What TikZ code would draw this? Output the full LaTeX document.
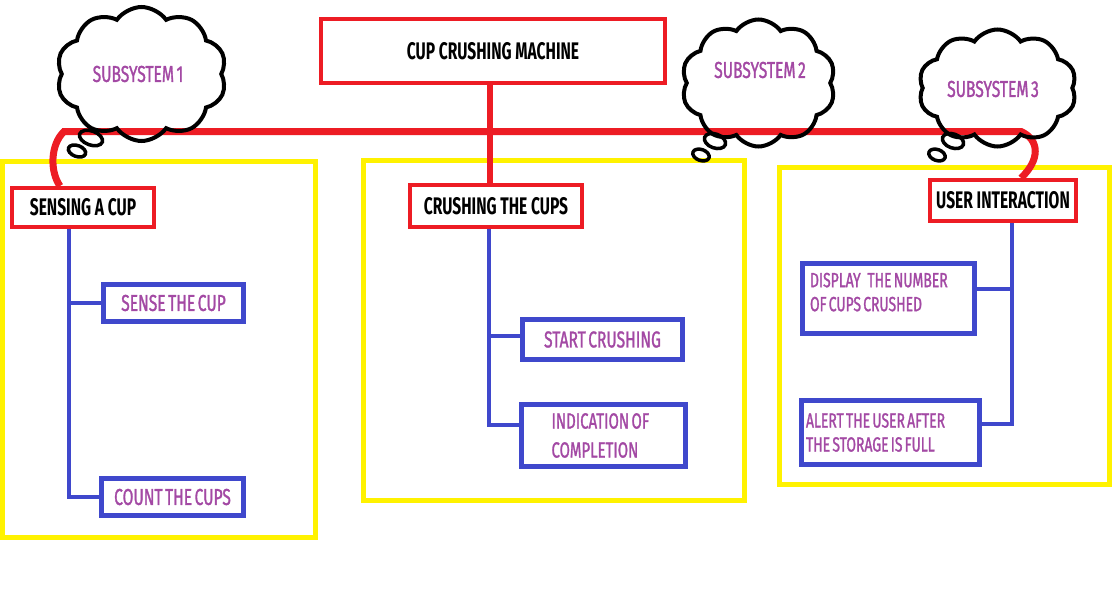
\documentclass[tikz,border=0pt]{standalone}
\usepackage{fontspec}
\setmainfont{Fira Sans}[FakeStretch=0.65]
\newfontfamily\purfont{Fira Sans}[FakeStretch=0.68, FakeBold=1.2, WordSpace=0.6]
\newcommand\tightsp{\spaceskip=\fontdimen2\font\relax\xspaceskip=\fontdimen2\font\relax}
\usetikzlibrary{shapes.symbols}
\definecolor{pred}{HTML}{ED1C24}
\definecolor{pyel}{HTML}{FFF200}
\definecolor{pblue}{HTML}{3F48CC}
\definecolor{ppur}{HTML}{A349A4}
\tikzset{
  redbox/.style={draw=pred, line width=4pt, inner sep=0pt, font=\bfseries\fontsize{24}{28}\selectfont, text=black},
  bluebox/.style={draw=pblue, line width=5pt, inner sep=0pt, text=ppur, align=left, font=\purfont\fontsize{23}{29}\selectfont},
  smallblue/.style={bluebox, font=\purfont\fontsize{20.5}{24}\selectfont},
  yelbox/.style={draw=pyel, line width=5pt},
  busline/.style={draw=pred, line width=7pt},
  redline/.style={draw=pred, line width=6pt},
  blueline/.style={draw=pblue, line width=4.5pt},
  thought/.style={cloud, cloud puffs=10, cloud puff arc=110, draw=black, line width=4pt, inner sep=0pt},
  bubble/.style={draw=black, line width=3.5pt},
  subtext/.style={text=ppur, font=\purfont\fontsize{23}{26}\selectfont}
}
\begin{document}
\begin{tikzpicture}[x=1pt,y=-1pt]
\useasboundingbox (0,0) rectangle (1115,597);
\fill[white] (0,0) rectangle (1115,597);
% yellow frames
\draw[yelbox] (2.5,161.5) rectangle (315.5,537.5);
\draw[yelbox] (363,160.5) rectangle (744,500.5);
\draw[yelbox] (779.5,167.5) rectangle (1109.5,484.5);
% red boxes
\node[redbox, minimum width=344pt, minimum height=64pt] (top) at (493,51) {CUP CRUSHING MACHINE};
\node[redbox, minimum width=142pt, minimum height=39pt] (sensing) at (83,207.5) {SENSING A CUP};
\node[redbox, minimum width=172pt, minimum height=42pt] (crush) at (496,206) {CRUSHING THE CUPS};
\node[redbox, minimum width=146pt, minimum height=41pt] (user) at (1003,200.5) {USER INTERACTION};
% blue boxes
\node[bluebox, minimum width=140pt, minimum height=37pt] (sense) at (173.5,303) {SENSE THE CUP};
\node[bluebox, minimum width=142pt, minimum height=37pt] (count) at (172.5,497) {COUNT THE CUPS};
\node[bluebox, minimum width=160pt, minimum height=40pt] (start) at (602.5,339.5) {START CRUSHING};
\node[bluebox, minimum width=164pt, minimum height=62pt, text width=104pt, font=\purfont\fontsize{22}{29}\selectfont] (indic) at (603.5,435.5) {\tightsp INDICATION OF\\COMPLETION};
\node[smallblue, minimum width=172pt, minimum height=70pt, text width=157pt] (display) at (888.5,298.5) {\tightsp DISPLAY\hspace{0.22em} THE NUMBER\\OF CUPS CRUSHED\\[-11pt]\mbox{}};
\node[smallblue, minimum width=178pt, minimum height=64pt, text width=169pt] (alert) at (890.5,432.5) {\tightsp ALERT THE USER AFTER\\THE STORAGE IS FULL};
% red connectors
\draw[redline] (top.south -| 490,0) -- (crush.north -| 490,0);
\draw[busline] (sensing.north -| 60,0) .. controls (50,172) and (50,145) .. (64,131.5) -- (1021,131.5) .. controls (1040,140) and (1040,160) .. (user.north -| 1021,0);
% blue connectors
\draw[blueline] (sensing.south -| 69,0) |- (sense.west);
\draw[blueline] (sensing.south -| 69,0) |- (count.west);
\draw[blueline] (crush.south -| 489,0) |- (start.west |- 0,336);
\draw[blueline] (crush.south -| 489,0) |- (indic.west |- 0,425);
\draw[blueline] (user.south -| 1012,0) |- (alert.east |- 0,424);
\draw[blueline] (display.east |- 0,289) -- (1012,289);
% clouds
\node[thought, minimum width=170pt, minimum height=134pt] (c1) at (141.5,74) {};
\node[thought, minimum width=154pt, minimum height=127pt] (c2) at (758.5,83) {};
\node[thought, minimum width=158pt, minimum height=117pt] (c3) at (997.5,88) {};
\node[subtext] (s1) at (138,74) {SUBSYSTEM 1};
\node[subtext] (s2) at (760,70) {SUBSYSTEM 2};
\node[subtext] (s3) at (993,89) {SUBSYSTEM 3};
\draw[bubble, rotate around={-20:(91,138)}] (91,138) ellipse [x radius=12, y radius=7];
\draw[bubble, rotate around={-20:(77,151)}] (77,151) ellipse [x radius=9, y radius=5.5];
\draw[bubble, rotate around={-20:(715,141)}] (715,141) ellipse [x radius=11, y radius=7];
\draw[bubble, rotate around={-20:(701,155)}] (701,155) ellipse [x radius=8.5, y radius=5.5];
\draw[bubble, rotate around={-20:(953,141)}] (953,141) ellipse [x radius=11, y radius=7];
\draw[bubble, rotate around={-20:(937,155)}] (937,155) ellipse [x radius=8.5, y radius=5.5];
\end{tikzpicture}
\end{document}
